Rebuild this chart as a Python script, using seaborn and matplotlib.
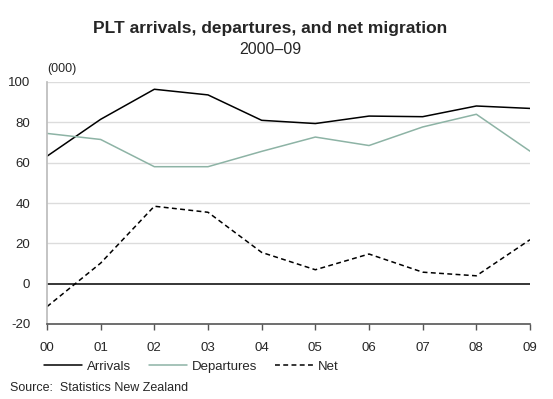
import matplotlib
matplotlib.use("Agg")
import matplotlib.pyplot as plt
import pandas as pd
import seaborn as sns

# PLT migration, thousands
years = ["00", "01", "02", "03", "04", "05", "06", "07", "08", "09"]
arrivals = [63.2, 81.5, 96.4, 93.6, 81.0, 79.4, 83.1, 82.8, 88.1, 86.9]
departures = [74.5, 71.5, 58.0, 58.0, 65.6, 72.7, 68.5, 77.7, 84.0, 65.7]
net = [-11.4, 10.2, 38.4, 35.4, 15.5, 6.9, 14.7, 5.7, 3.9, 21.8]

df = pd.DataFrame({
    "x": range(len(years)),
    "Arrivals": arrivals,
    "Departures": departures,
    "Net": net,
})

sns.set_theme(style="white")
plt.rcParams["font.family"] = ["Liberation Sans", "DejaVu Sans"]
plt.rcParams["axes.unicode_minus"] = False

fig = plt.figure(figsize=(5.53, 3.99), dpi=100)
ax = fig.add_axes([47 / 553, 1 - 324 / 399, 483 / 553, 242 / 399])

# light grid, zero line on top
for yv in [20, 40, 60, 80, 100]:
    ax.axhline(yv, color="#dcdcdc", lw=1.0, zorder=0)
ax.axhline(0, color="black", lw=1.1, zorder=1)

sns.lineplot(data=df, x="x", y="Arrivals", ax=ax, color="black", lw=1.1, label="Arrivals")
sns.lineplot(data=df, x="x", y="Departures", ax=ax, color="#8db3a5", lw=1.1, label="Departures")
sns.lineplot(data=df, x="x", y="Net", ax=ax, color="black", lw=1.1, label="Net",
             linestyle=(0, (3.2, 2.2)))

ax.set_xlim(0, 9)
ax.set_ylim(-20, 100)
ax.set_xticks(range(len(years)))
ax.set_xticklabels(years)
ax.set_yticks([-20, 0, 20, 40, 60, 80, 100])
ax.set_xlabel("")
ax.set_ylabel("")

for side in ["top", "right"]:
    ax.spines[side].set_visible(False)
ax.spines["left"].set_color("#bdbdbd")
ax.spines["bottom"].set_color("#555555")
ax.spines["bottom"].set_linewidth(1.2)
ax.tick_params(axis="x", bottom=True, direction="out", length=4, width=1.0,
               color="#555555", labelsize=9.5, pad=9)
ax.tick_params(axis="y", left=False, labelsize=9.5, pad=6)

ax.legend(loc="upper left", bbox_to_anchor=(-0.012, -0.14), ncol=3, frameon=False,
          fontsize=9.5, handlelength=2.9, handletextpad=0.4, columnspacing=1.3,
          borderaxespad=0, borderpad=0.2)

fig.text(0.488, 1 - 29 / 399, "PLT arrivals, departures, and net migration",
         ha="center", va="center", fontsize=12.5, fontweight="bold")
fig.text(0.488, 1 - 49 / 399, "2000\u201309", ha="center", va="center", fontsize=11.5)
fig.text(47 / 553, 1 - 69 / 399, "(000)", ha="left", va="center", fontsize=9)
fig.text(10 / 553, 1 - 388 / 399, "Source:  Statistics New Zealand", ha="left",
         va="center", fontsize=9)

fig.savefig("out.png", dpi=100)
